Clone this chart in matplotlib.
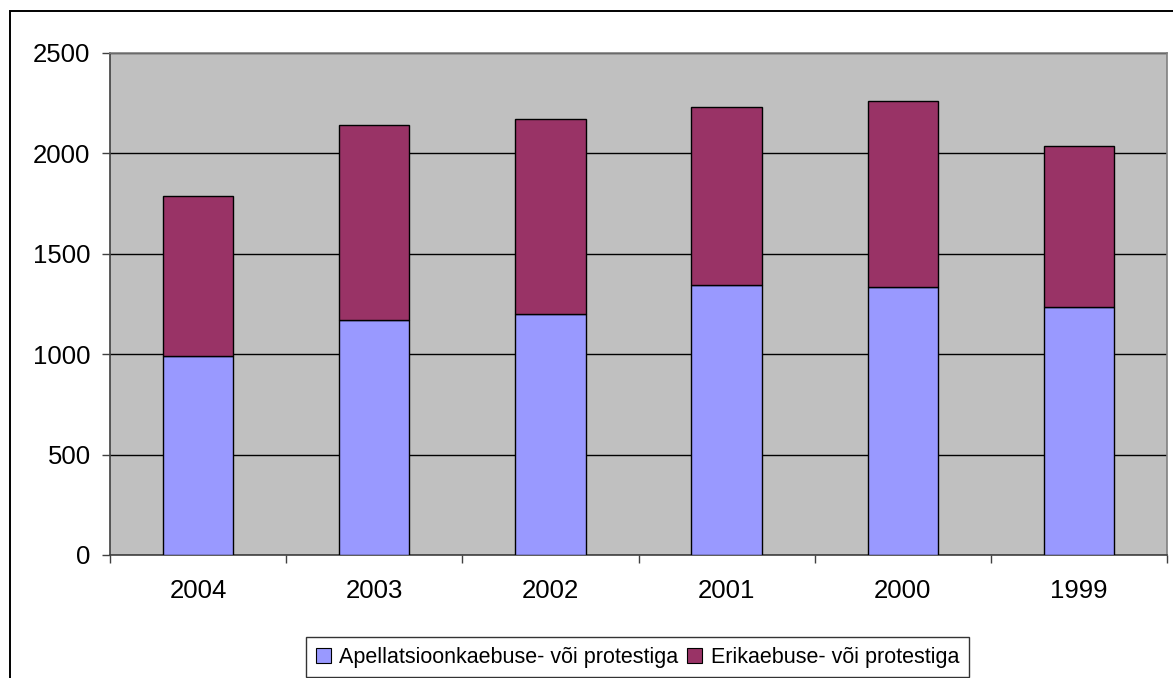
import matplotlib
matplotlib.use("Agg")
import matplotlib.pyplot as plt
from matplotlib.patches import Rectangle, Patch
import numpy as np

years = ["2004", "2003", "2002", "2001", "2000", "1999"]
apellatsioon = [990, 1169, 1199, 1346, 1337, 1237]
erikaebus_total = [1788, 2140, 2170, 2230, 2260, 2038]
erikaebus = [t - a for t, a in zip(erikaebus_total, apellatsioon)]
series_names = ["Apellatsioonkaebuse- või protestiga", "Erikaebuse- või protestiga"]
y_ticks = [0, 500, 1000, 1500, 2000, 2500]

W, H = 1173, 678
fig = plt.figure(figsize=(W / 100, H / 100), dpi=100)
plt.rcParams['font.family'] = ['Liberation Sans', 'DejaVu Sans']

# outer chart border
fig.patches.append(Rectangle((10 / W, -0.1), 1.2, 1 - 11 / H + 0.1, transform=fig.transFigure,
                             fill=False, edgecolor='#000000', linewidth=1.4))

ax = fig.add_axes([110 / W, 1 - 555 / H, (1167 - 110) / W, (555 - 53) / H])
ax.set_facecolor('#C0C0C0')

x = np.arange(len(years))
bw = 0.4
ax.bar(x, apellatsioon, width=bw, color='#9999FF', edgecolor='#000000', linewidth=1, zorder=3)
ax.bar(x, erikaebus, width=bw, bottom=apellatsioon, color='#993366', edgecolor='#000000', linewidth=1, zorder=3)

ax.set_ylim(0, 2500)
ax.set_xlim(-0.5, len(years) - 0.5)
ax.set_yticks(y_ticks)
ax.set_yticklabels([str(v) for v in y_ticks])
ax.yaxis.grid(True, color='#000000', linewidth=1, zorder=1)
ax.set_axisbelow(True)

ax.set_xticks(np.arange(-0.5, len(years), 1.0))
ax.set_xticklabels([])
ax.set_xticks(x, minor=True)
ax.set_xticklabels(years, minor=True)
ax.tick_params(axis='x', which='major', length=6, width=1, color='#404040', direction='out')
ax.tick_params(axis='x', which='minor', length=0, pad=17, labelsize=18.5)
ax.tick_params(axis='y', length=6, width=1, color='#404040', direction='out', pad=8, labelsize=18.5)

for s in ['top', 'right']:
    ax.spines[s].set_color('#808080')
    ax.spines[s].set_linewidth(1.2)
for s in ['left', 'bottom']:
    ax.spines[s].set_color('#404040')
    ax.spines[s].set_linewidth(1.2)

handles = [Patch(facecolor='#9999FF', edgecolor='#000000', linewidth=0.8),
           Patch(facecolor='#993366', edgecolor='#000000', linewidth=0.8)]
leg = fig.legend(handles, series_names, loc='upper left',
                 bbox_to_anchor=(306 / W, 1 - 637 / H), ncol=2, frameon=True, fancybox=False,
                 fontsize=15.5, handlelength=0.7, handleheight=0.7, handletextpad=0.4,
                 columnspacing=0.4, borderpad=0.45, borderaxespad=0)
leg.get_frame().set_edgecolor('#000000')
leg.get_frame().set_linewidth(1)

fig.savefig("out.png", dpi=100)
